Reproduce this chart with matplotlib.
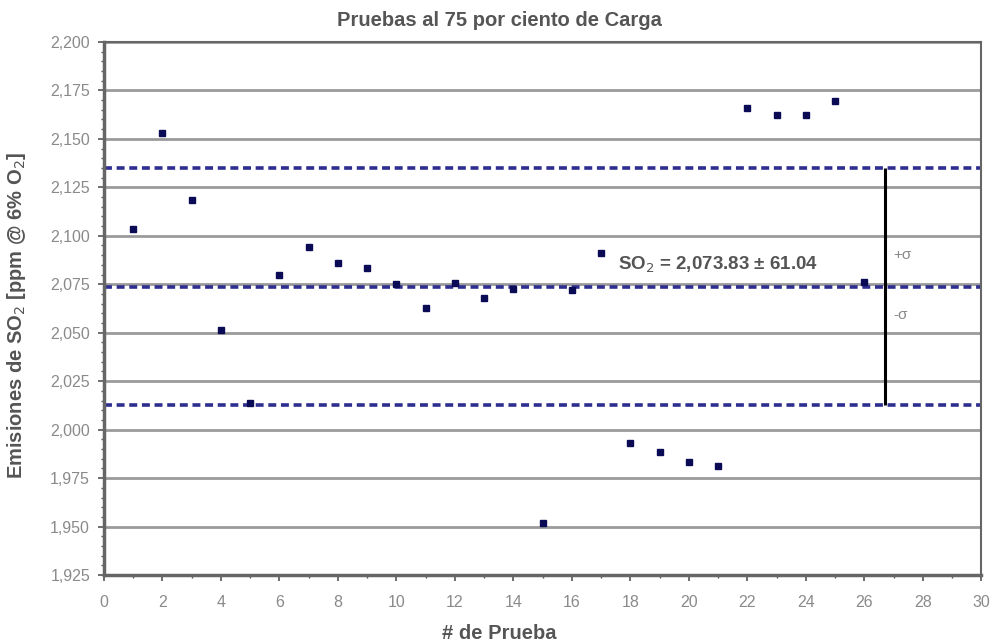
import matplotlib
matplotlib.use("Agg")
import matplotlib.pyplot as plt
from matplotlib.ticker import MultipleLocator, FuncFormatter

plt.rcParams['font.family'] = ['Liberation Sans', 'DejaVu Sans']

# Test number and measured SO2 emission
prueba = [1, 2, 3, 4, 5, 6, 7, 8, 9, 10, 11, 12, 13, 14, 15, 16, 17, 18, 19,
          20, 21, 22, 23, 24, 25, 26]
so2 = [2103.5, 2153.0, 2118.5, 2051.5, 2014.0, 2080.0, 2094.0, 2086.0, 2083.5,
       2075.0, 2062.5, 2075.5, 2068.0, 2072.5, 1952.0, 2072.0, 2091.0, 1993.0,
       1988.5, 1983.5, 1981.5, 2166.0, 2162.5, 2162.5, 2169.5, 2076.0]

media = 2073.83
desv = 61.04
x_barra = 26.7

fig = plt.figure(figsize=(9.98, 6.44), dpi=100)
ax = fig.add_axes([0.1042, 0.107, 0.879, 0.828])

ax.set_xlim(0, 30)
ax.set_ylim(1925, 2200)

# horizontal grid every 25 ppm
for v in range(1925, 2201, 25):
    ax.axhline(v, color='#9a9a9a', lw=2.0, zorder=1)

# mean and +/- one standard deviation
for v in (media + desv, media, media - desv):
    ax.axhline(v, color='#2e2e90', lw=2.6, dashes=(2.2, 1.3), zorder=2)

ax.vlines(x_barra, media - desv, media + desv, color='black', lw=2.2, zorder=3)
ax.text(x_barra + 0.3, media + 16.5, '+σ', fontsize=11, color='#888888',
        ha='left', va='center')
ax.text(x_barra + 0.3, media - 14.5, '-σ', fontsize=11, color='#888888',
        ha='left', va='center')

ax.plot(prueba, so2, linestyle='none', marker='s', markersize=5,
        color='#0b0b55', zorder=4)

ax.text(17.58, 2085, 'SO$_2$ = 2,073.83 ± 61.04', fontsize=13.5,
        fontweight='bold', color='#555555', ha='left', va='center')

ax.xaxis.set_major_locator(MultipleLocator(2))
ax.xaxis.set_minor_locator(MultipleLocator(1))
ax.yaxis.set_major_locator(MultipleLocator(25))
ax.yaxis.set_minor_locator(MultipleLocator(5))
ax.yaxis.set_major_formatter(FuncFormatter(lambda v, p: f'{v:,.0f}'))

ax.tick_params(axis='both', which='major', labelsize=11.5, labelcolor='#8a8a8a',
               color='#555555', length=4, width=1.2)
ax.tick_params(axis='x', which='major', pad=10)
ax.tick_params(axis='y', which='major', pad=6)
ax.tick_params(axis='both', which='minor', color='#555555', length=2.5, width=1.0)

for s in ax.spines.values():
    s.set_color('#666666')
    s.set_linewidth(1.5)
ax.spines['left'].set_linewidth(2.5)
ax.spines['bottom'].set_linewidth(2.5)

fig.text(0.5, 1 - 20 / 644, 'Pruebas al 75 por ciento de Carga', fontsize=14.5,
         fontweight='bold', color='#555555', ha='center', va='center')
ax.set_xlabel('# de Prueba', fontsize=14.5, fontweight='bold', color='#555555')
ax.xaxis.set_label_coords(0.4504, -0.092)
ax.set_ylabel('Emisiones de SO$_2$ [ppm @ 6% O$_2$]', fontsize=14.5,
              fontweight='bold', color='#555555')
ax.yaxis.set_label_coords(-0.087, 0.488)

fig.savefig('out.png', dpi=100, facecolor='white')
